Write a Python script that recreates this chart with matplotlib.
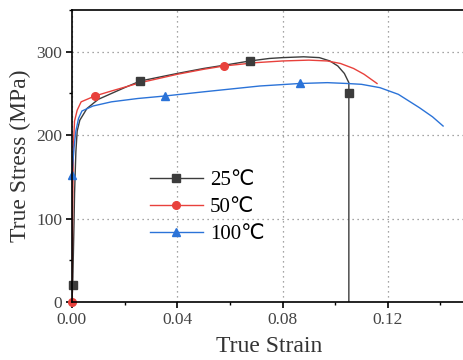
import matplotlib
matplotlib.use("Agg")
import matplotlib.pyplot as plt
from matplotlib.ticker import MultipleLocator

plt.rcParams['font.family'] = ['Liberation Serif', 'DejaVu Sans']

# 25 C curve
strain_25 = [0.0, 0.0003, 0.0005, 0.0008, 0.001, 0.0015, 0.002, 0.003, 0.0057, 0.01, 0.02,
             0.026, 0.04, 0.05, 0.06, 0.0676, 0.075, 0.08, 0.088, 0.094, 0.098, 0.101,
             0.1035, 0.1052, 0.1052]
stress_25 = [0, 20, 50, 95, 130, 180, 205, 218, 232, 243, 257,
             265, 274, 280, 285, 289, 292, 293, 294, 293, 289, 283,
             274, 263, 0]
mk_strain_25 = [0.0005, 0.0258, 0.0676, 0.1052]
mk_stress_25 = [20, 265, 289, 251]

# 50 C curve
strain_50 = [0.0, 0.0003, 0.0006, 0.001, 0.002, 0.0035, 0.0087, 0.015, 0.026, 0.04,
             0.05, 0.0578, 0.07, 0.08, 0.09, 0.097, 0.102, 0.107, 0.111, 0.1159]
stress_50 = [0, 120, 190, 217, 230, 240, 247, 253, 263, 273,
             279, 283, 287, 289, 290, 289, 286, 280, 273, 262]
mk_strain_50 = [0.0, 0.0087, 0.0578]
mk_stress_50 = [0, 247, 283]

# 100 C curve
strain_100 = [0.0, 0.0008, 0.0015, 0.0025, 0.0038, 0.008, 0.015, 0.025, 0.0353, 0.05,
              0.0714, 0.0866, 0.097, 0.1045, 0.11, 0.117, 0.124, 0.132, 0.137, 0.141]
stress_100 = [152, 185, 205, 220, 229, 235, 240, 244, 247, 252,
              259, 262, 263, 262, 261, 257, 249, 233, 222, 211]
mk_strain_100 = [0.0, 0.0353, 0.0866]
mk_stress_100 = [152, 247, 263]

c25, c50, c100 = '#3c3c3c', '#e8413c', '#2b73d8'

fig = plt.figure(figsize=(4.64, 3.6), dpi=100)
ax = fig.add_axes([0.155, 0.161, 0.851, 0.811])

ax.plot(strain_25, stress_25, color=c25, lw=1.0)
ax.plot(strain_50, stress_50, color=c50, lw=1.0)
ax.plot(strain_100, stress_100, color=c100, lw=1.0)
ax.plot(mk_strain_25, mk_stress_25, ls='None', marker='s', ms=5.5, color=c25, clip_on=False)
ax.plot(mk_strain_50, mk_stress_50, ls='None', marker='o', ms=5.5, color=c50, clip_on=False)
ax.plot(mk_strain_100, mk_stress_100, ls='None', marker='^', ms=6, color=c100, clip_on=False)

# legend handles
h25, = ax.plot([], [], color=c25, lw=1.0, marker='s', ms=5.5)
h50, = ax.plot([], [], color=c50, lw=1.0, marker='o', ms=5.5)
h100, = ax.plot([], [], color=c100, lw=1.0, marker='^', ms=6)
ax.legend([h25, h50, h100], ['25℃', '50℃', '100℃'], loc='upper left',
          bbox_to_anchor=(0.197, 0.45), frameon=False, fontsize=15,
          handlelength=2.55, labelspacing=0.36, handletextpad=0.35,
          borderaxespad=0, borderpad=0)

ax.set_xlim(0, 0.15)
ax.set_ylim(0, 350)
ax.xaxis.set_major_locator(MultipleLocator(0.04))
ax.xaxis.set_minor_locator(MultipleLocator(0.02))
ax.yaxis.set_major_locator(MultipleLocator(100))
ax.yaxis.set_minor_locator(MultipleLocator(50))
ax.xaxis.set_major_formatter(plt.FuncFormatter(lambda v, p: '%.2f' % v))
ax.grid(True, which='major', ls=(0, (1, 3)), color='#888888', lw=0.9)
ax.tick_params(which='major', direction='out', length=4, width=1.2,
               labelsize=12.5, labelcolor='#444444')
ax.tick_params(axis='x', which='major', pad=3)
ax.tick_params(axis='y', which='major', pad=3)
ax.tick_params(which='minor', direction='out', length=2.5, width=1)
ax.spines['right'].set_visible(False)
for s in ['left', 'bottom', 'top']:
    ax.spines[s].set_linewidth(1.2)

ax.set_xlabel('True Strain', fontsize=17, color='#333333', labelpad=6)
ax.set_ylabel('True Stress (MPa)', fontsize=17, color='#333333', labelpad=4)

fig.savefig('out.png', dpi=100)
